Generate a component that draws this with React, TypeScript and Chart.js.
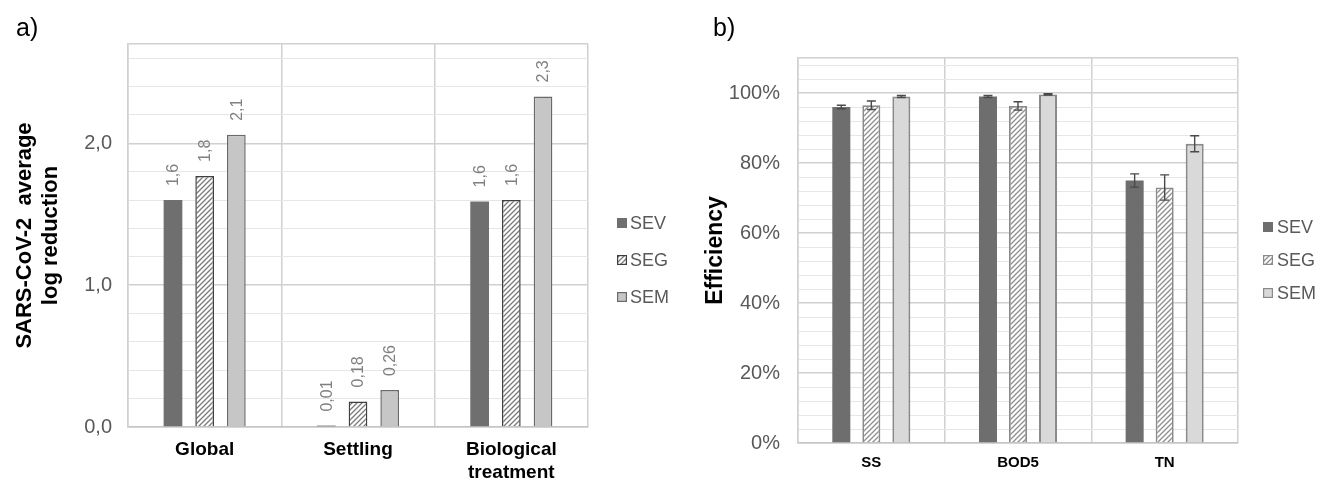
import React, { useEffect, useRef } from 'react';
import { Chart, registerables } from 'chart.js';

Chart.register(...registerables);

// ---------- data ----------
const seriesNames = ['SEV', 'SEG', 'SEM'];

// a) SARS-CoV-2 average log reduction
const leftCategories = ['Global', 'Settling', ['Biological', 'treatment']];
const leftSEV = [1.6, 0.01, 1.59];
const leftSEG = [1.77, 0.18, 1.6];
const leftSEM = [2.06, 0.26, 2.33];
const leftLabelsSEV = ['1,6', '0,01', '1,6'];
const leftLabelsSEG = ['1,8', '0,18', '1,6'];
const leftLabelsSEM = ['2,1', '0,26', '2,3'];
const leftYTicks = [0, 0.2, 0.4, 0.6, 0.8, 1, 1.2, 1.4, 1.6, 1.8, 2, 2.2, 2.4, 2.6, 2.7];
const leftYTitle = ['SARS-CoV-2  average', 'log reduction'];

// b) Efficiency (%)
const rightCategories = ['SS', 'BOD5', 'TN'];
const rightSEV = [96.0, 99.0, 75.0];
const rightSEG = [96.5, 96.3, 73.0];
const rightSEM = [99.0, 99.6, 85.5];
const rightErrSEV = [0.5, 0.3, 1.9];
const rightErrSEG = [1.2, 1.2, 3.6];
const rightErrSEM = [0.3, 0.2, 2.3];
const rightYTicks = [0, 4, 8, 12, 16, 20, 24, 28, 32, 36, 40, 44, 48, 52, 56, 60, 64, 68, 72, 76, 80, 84, 88, 92, 96, 100, 104, 108, 110];
const rightYTitle = 'Efficiency';

const FONT = "'Liberation Sans', Arial, sans-serif";

function makeHatch(lineColor: string, bg: string, size: number, lw: number) {
  const c = document.createElement('canvas');
  c.width = size;
  c.height = size;
  const g = c.getContext('2d')!;
  g.fillStyle = bg;
  g.fillRect(0, 0, size, size);
  g.strokeStyle = lineColor;
  g.lineWidth = lw;
  g.beginPath();
  g.moveTo(-1, size + 1);
  g.lineTo(size + 1, -1);
  g.moveTo(-size / 2 - 1, size / 2 + 1);
  g.lineTo(size / 2 + 1, -size / 2 - 1);
  g.moveTo(size / 2 - 1, size * 1.5 + 1);
  g.lineTo(size * 1.5 + 1, size / 2 - 1);
  g.stroke();
  return g.createPattern(c, 'repeat')!;
}

const barLabelPlugin = {
  id: 'barLabels',
  afterDatasetsDraw(chart: any, _args: any, opts: any) {
    if (!opts || !opts.labels) return;
    const ctx = chart.ctx;
    ctx.save();
    ctx.font = opts.font;
    ctx.fillStyle = opts.color;
    ctx.textAlign = 'left';
    ctx.textBaseline = 'middle';
    chart.data.datasets.forEach((_ds: any, i: number) => {
      const meta = chart.getDatasetMeta(i);
      meta.data.forEach((el: any, j: number) => {
        const txt = opts.labels[i][j];
        ctx.save();
        ctx.translate(el.x + 1, el.y - opts.gap);
        ctx.rotate(-Math.PI / 2);
        ctx.fillText(txt, 0, 0);
        ctx.restore();
      });
    });
    ctx.restore();
  },
};

const errorBarPlugin = {
  id: 'errorBars',
  afterDatasetsDraw(chart: any, _args: any, opts: any) {
    if (!opts || !opts.errors) return;
    const ctx = chart.ctx;
    const y = chart.scales.y;
    ctx.save();
    ctx.strokeStyle = opts.color;
    ctx.lineWidth = opts.width;
    chart.data.datasets.forEach((ds: any, i: number) => {
      const meta = chart.getDatasetMeta(i);
      meta.data.forEach((el: any, j: number) => {
        const v = ds.data[j];
        const e = opts.errors[i][j];
        const top = y.getPixelForValue(v + e);
        const bot = y.getPixelForValue(v - e);
        const c = opts.cap / 2;
        ctx.beginPath();
        ctx.moveTo(el.x, top);
        ctx.lineTo(el.x, bot);
        ctx.moveTo(el.x - c, top);
        ctx.lineTo(el.x + c, top);
        ctx.moveTo(el.x - c, bot);
        ctx.lineTo(el.x + c, bot);
        ctx.stroke();
      });
    });
    ctx.restore();
  },
};

const sideLegendPlugin = {
  id: 'sideLegend',
  afterDraw(chart: any, _args: any, opts: any) {
    if (!opts || !opts.show) return;
    const ctx = chart.ctx;
    const right = chart.chartArea.right;
    ctx.save();
    ctx.font = opts.font;
    ctx.textAlign = 'left';
    ctx.textBaseline = 'middle';
    chart.data.datasets.forEach((ds: any, i: number) => {
      const cy = opts.centerY + (i - 1) * opts.pitch;
      const x = right + opts.dx;
      const b = opts.box;
      ctx.fillStyle = ds.backgroundColor;
      ctx.fillRect(x, cy - b / 2, b, b);
      if (ds.borderWidth) {
        ctx.strokeStyle = ds.borderColor;
        ctx.lineWidth = 1.2;
        ctx.strokeRect(x + 0.6, cy - b / 2 + 0.6, b - 1.2, b - 1.2);
      }
      ctx.fillStyle = opts.color;
      ctx.fillText(ds.label, x + b + opts.gap, cy + 1);
    });
    ctx.restore();
  },
};

function isMultiple(v: number, step: number) {
  const r = v / step;
  return Math.abs(r - Math.round(r)) < 1e-6;
}

export default function App() {
  const leftRef = useRef<HTMLCanvasElement>(null);
  const rightRef = useRef<HTMLCanvasElement>(null);

  useEffect(() => {
    document.body.style.margin = '0';
    const hatchL = makeHatch('#7a7a7a', '#ffffff', 5, 1.3);
    const hatchR = makeHatch('#8e8e8e', '#ffffff', 5, 1.3);

    const leftMax = leftYTicks[leftYTicks.length - 1];
    const left = new Chart(leftRef.current!, {
      type: 'bar',
      data: {
        labels: leftCategories as any,
        datasets: [
          { label: seriesNames[0], data: leftSEV, backgroundColor: '#6f6f6f', borderColor: '#6f6f6f', borderWidth: 0 },
          { label: seriesNames[1], data: leftSEG, backgroundColor: hatchL as any, borderColor: '#3f3f3f', borderWidth: 1.5 },
          { label: seriesNames[2], data: leftSEM, backgroundColor: '#c6c6c6', borderColor: '#6a6a6a', borderWidth: 1.5 },
        ],
      },
      options: {
        responsive: false,
        animation: false,
        events: [],
        datasets: { bar: { categoryPercentage: 0.62, barPercentage: 0.59 } },
        layout: { padding: { top: 44, right: 112, bottom: 0, left: 0 } },
        plugins: {
          legend: { display: false },
          tooltip: { enabled: false },
          barLabels: {
            labels: [leftLabelsSEV, leftLabelsSEG, leftLabelsSEM],
            font: `16px ${FONT}`,
            color: '#808080',
            gap: 14,
          },
          sideLegend: { show: true, font: `18px ${FONT}`, color: '#595959', dx: 29, centerY: 260, pitch: 37, box: 10, gap: 3 },
        } as any,
        scales: {
          x: {
            type: 'category',
            grid: { offset: true, color: '#d0d0d0', lineWidth: 1.5, drawTicks: false },
            border: { display: true, color: '#c4c4c4', width: 1.5 },
            ticks: { color: '#000000', font: { family: FONT, size: 19, weight: 'bold' }, padding: 11.6, maxRotation: 0, autoSkip: false },
            afterFit: (s: any) => { s.height = 55; },
          },
          y: {
            type: 'linear',
            min: 0,
            max: leftMax,
            afterBuildTicks: (s: any) => { s.ticks = leftYTicks.map((v) => ({ value: v })); },
            grid: {
              drawTicks: false,
              color: (c: any) => (c.tick && (isMultiple(c.tick.value, 1) || c.tick.value === leftMax) ? '#d0d0d0' : '#e6e6e6'),
              lineWidth: (c: any) => (c.tick && (isMultiple(c.tick.value, 1) || c.tick.value === leftMax) ? 1.5 : 1),
            },
            border: { display: true, color: '#d0d0d0', width: 1.5 },
            ticks: {
              autoSkip: false,
              color: '#595959',
              font: { family: FONT, size: 20 },
              padding: 16,
              callback: (v: any) => (isMultiple(Number(v), 1) ? Number(v).toFixed(1).replace('.', ',') : ''),
            },
            title: {
              display: true,
              text: leftYTitle,
              color: '#000000',
              font: { family: FONT, size: 22, weight: 'bold', lineHeight: 1.2 },
              padding: { top: 11.8, bottom: 0 },
            },
            afterFit: (s: any) => { s.width = 128; },
          },
        } as any,
      },
      plugins: [barLabelPlugin, sideLegendPlugin],
    } as any);

    const rightMax = rightYTicks[rightYTicks.length - 1];
    const right = new Chart(rightRef.current!, {
      type: 'bar',
      data: {
        labels: rightCategories,
        datasets: [
          { label: seriesNames[0], data: rightSEV, backgroundColor: '#6e6e6e', borderColor: '#6e6e6e', borderWidth: 0 },
          { label: seriesNames[1], data: rightSEG, backgroundColor: hatchR as any, borderColor: '#8a8a8a', borderWidth: 1.8 },
          { label: seriesNames[2], data: rightSEM, backgroundColor: '#d9d9d9', borderColor: '#8a8a8a', borderWidth: 2 },
        ],
      },
      options: {
        responsive: false,
        animation: false,
        events: [],
        datasets: { bar: { categoryPercentage: 0.614, barPercentage: 0.6 } },
        layout: { padding: { top: 58, right: 88, bottom: 0, left: 0 } },
        plugins: {
          legend: { display: false },
          tooltip: { enabled: false },
          errorBars: {
            errors: [rightErrSEV, rightErrSEG, rightErrSEM],
            color: '#4a4a4a',
            width: 1.4,
            cap: 9,
          },
          sideLegend: { show: true, font: `18px ${FONT}`, color: '#595959', dx: 25, centerY: 260, pitch: 33, box: 10, gap: 4 },
        } as any,
        scales: {
          x: {
            type: 'category',
            grid: { offset: true, color: '#d0d0d0', lineWidth: 1.5, drawTicks: false },
            border: { display: true, color: '#c4c4c4', width: 1.5 },
            ticks: { color: '#000000', font: { family: FONT, size: 15, weight: 'bold' }, padding: 11, maxRotation: 0, autoSkip: false },
            afterFit: (s: any) => { s.height = 39; },
          },
          y: {
            type: 'linear',
            min: 0,
            max: rightMax,
            afterBuildTicks: (s: any) => { s.ticks = rightYTicks.map((v) => ({ value: v })); },
            grid: {
              drawTicks: false,
              color: (c: any) => (c.tick && (isMultiple(c.tick.value, 20) || c.tick.value === rightMax) ? '#d0d0d0' : '#e6e6e6'),
              lineWidth: (c: any) => (c.tick && (isMultiple(c.tick.value, 20) || c.tick.value === rightMax) ? 1.5 : 1),
            },
            border: { display: true, color: '#d0d0d0', width: 1.5 },
            ticks: {
              autoSkip: false,
              color: '#595959',
              font: { family: FONT, size: 20 },
              padding: 18,
              callback: (v: any) => (isMultiple(Number(v), 20) ? `${Number(v)}%` : ''),
            },
            title: {
              display: true,
              text: rightYTitle,
              color: '#000000',
              font: { family: FONT, size: 23, weight: 'bold', lineHeight: 1.2 },
              padding: { top: 2.2, bottom: 0 },
            },
            afterFit: (s: any) => { s.width = 98; },
          },
        } as any,
      },
      plugins: [errorBarPlugin, sideLegendPlugin],
    } as any);

    return () => {
      left.destroy();
      right.destroy();
    };
  }, []);

  const panelLabel: React.CSSProperties = {
    position: 'absolute',
    top: 15,
    fontFamily: FONT,
    fontSize: 25,
    lineHeight: '25px',
    color: '#000',
    margin: 0,
  };

  return (
    <div style={{ position: 'absolute', left: 0, top: 0, width: 1326, height: 482, background: '#ffffff', overflow: 'hidden' }}>
      <canvas ref={leftRef} width={700} height={482} style={{ position: 'absolute', left: 0, top: 0, display: 'block' }} />
      <canvas ref={rightRef} width={626} height={482} style={{ position: 'absolute', left: 700, top: 0, display: 'block' }} />
      <div style={{ ...panelLabel, left: 16 }}>a)</div>
      <div style={{ ...panelLabel, left: 713 }}>b)</div>
    </div>
  );
}
